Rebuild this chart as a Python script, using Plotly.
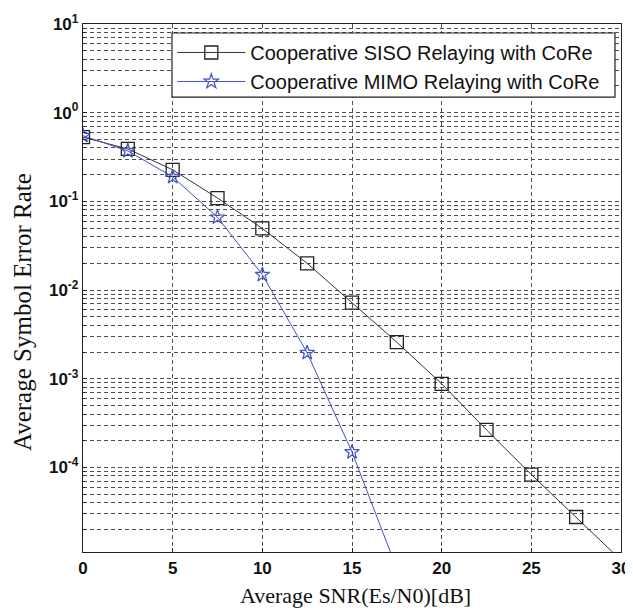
import plotly.graph_objects as go

snr_siso = [0, 2.5, 5, 7.5, 10, 12.5, 15, 17.5, 20, 22.5, 25, 27.5, 30]
ser_siso = [0.53, 0.39, 0.227, 0.109, 0.0495, 0.020, 0.0072, 0.00258, 0.000875,
            0.000265, 8.3e-5, 2.76e-5, 9.0e-6]

snr_mimo = [0, 2.5, 5, 7.5, 10, 12.5, 15, 17.5]
ser_mimo = [0.55, 0.37, 0.189, 0.066, 0.0149, 0.00196, 1.49e-4, 7.2e-6]

x_ticks = [0, 5, 10, 15, 20, 25, 30]
y_ticks = [10, 1, 0.1, 0.01, 1e-3, 1e-4]
y_ticktext = ["10<sup>1</sup>", "10<sup>0</sup>", "10<sup>-1</sup>", "10<sup>-2</sup>",
              "10<sup>-3</sup>", "10<sup>-4</sup>"]
y_minor = [m * 10.0 ** e for e in range(-5, 1) for m in range(2, 10)]

fig = go.Figure()
fig.add_trace(go.Scatter(
    x=snr_siso, y=ser_siso, mode="lines+markers",
    name="Cooperative SISO Relaying with CoRe",
    line=dict(color="#333333", width=1),
    marker=dict(symbol="square-open", size=13, color="#222222", line=dict(width=1.3)),
))
fig.add_trace(go.Scatter(
    x=snr_mimo, y=ser_mimo, mode="lines+markers",
    name="Cooperative MIMO Relaying with CoRe",
    line=dict(color="#4353c2", width=1),
    marker=dict(symbol="star-open", size=11, color="#4353c2", line=dict(width=1.2)),
))

grid_style = dict(showgrid=True, gridcolor="#505050", gridwidth=1, griddash="4px,3px")
tick_font = dict(family="Liberation Sans, Arial", size=17, color="#111111", weight="bold")
title_font = dict(family="Liberation Serif, Times New Roman", color="#111111")

# page body has an 8px margin; figure sized/offset to compensate
fig.update_layout(
    width=625, height=602,
    margin=dict(l=75, r=12, t=16, b=58, autoexpand=False),
    paper_bgcolor="white", plot_bgcolor="white",
    font=dict(family="Liberation Sans, Arial", color="#111111"),
    showlegend=True,
    legend=dict(
        x=0.166, y=0.983, xanchor="left", yanchor="top",
        bgcolor="rgba(0,0,0,0)", borderwidth=0,
        font=dict(family="Liberation Sans, Arial", size=20, color="#111111"),
        itemwidth=68, tracegroupgap=0,
    ),
    shapes=[
        dict(type="rect", xref="paper", yref="paper",
             x0=0.1654, x1=0.9888, y0=0.8616, y1=0.983,
             fillcolor="white", line=dict(color="#222222", width=1.2), layer="above"),
    ],
    xaxis=dict(
        range=[0, 30], tickmode="array", tickvals=x_ticks,
        ticktext=[str(v) for v in x_ticks], tickfont=tick_font,
        showline=True, linecolor="#222222", linewidth=1.3, mirror=True,
        ticks="inside", ticklen=4, tickcolor="#222222",
        zeroline=False, automargin=False, **grid_style,
    ),
    yaxis=dict(
        type="log", range=[-4.954, 1], tickmode="array", tickvals=y_ticks,
        ticktext=y_ticktext, tickfont=tick_font,
        showline=True, linecolor="#222222", linewidth=1.3, mirror=True,
        ticks="inside", ticklen=4, tickcolor="#222222",
        zeroline=False, automargin=False, **grid_style,
        minor=dict(tickmode="array", tickvals=y_minor, showgrid=True,
                   gridcolor="#505050", gridwidth=1, griddash="4px,3px",
                   ticks="inside", ticklen=2, tickcolor="#222222"),
    ),
    annotations=[
        dict(text="Average SNR(Es/N0)[dB]", xref="paper", yref="paper",
             x=0.507, y=-0.109, xanchor="center", yanchor="bottom", showarrow=False,
             font=dict(size=22, **title_font)),
        dict(text="Average Symbol Error Rate", xref="paper", yref="paper",
             x=-0.112, y=0.454, xanchor="center", yanchor="middle", showarrow=False,
             textangle=-90, font=dict(size=25, **title_font)),
    ],
)

fig.write_html("out.html")
